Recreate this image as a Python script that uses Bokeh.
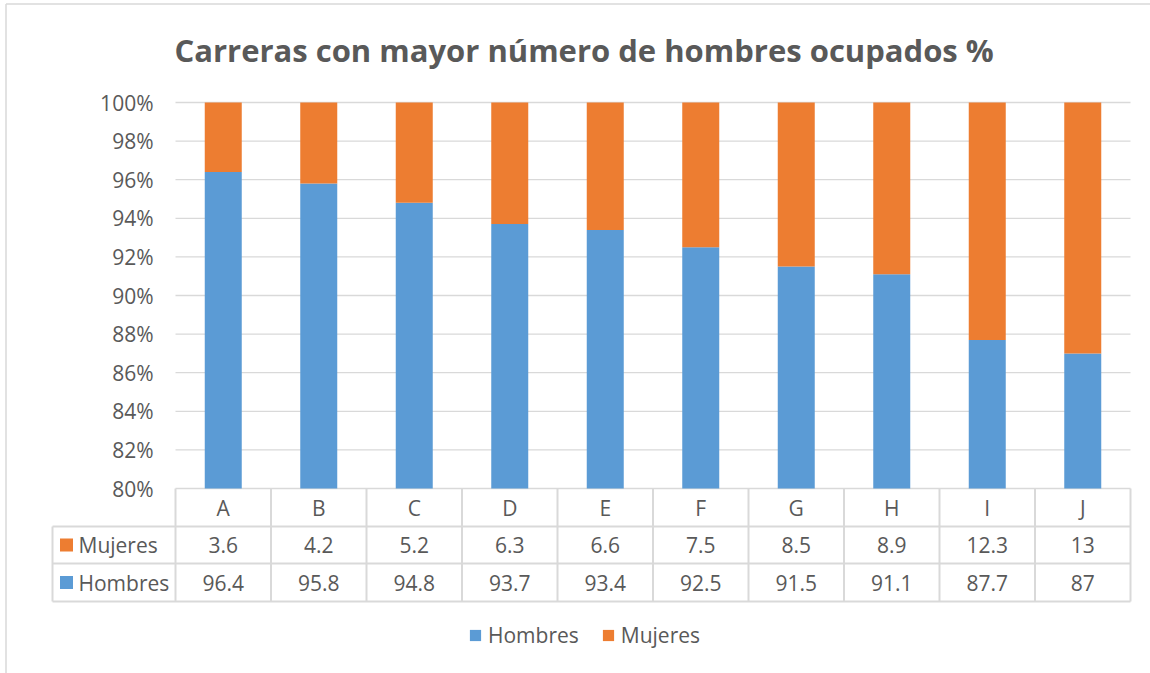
from bokeh.plotting import figure
from bokeh.models import Range1d, Legend, LegendItem
from bokeh.core.properties import value
from bokeh.embed import file_html
from bokeh.resources import INLINE

# ---- data ----
categories = ["A", "B", "C", "D", "E", "F", "G", "H", "I", "J"]
hombres = [96.4, 95.8, 94.8, 93.7, 93.4, 92.5, 91.5, 91.1, 87.7, 87]
mujeres = [3.6, 4.2, 5.2, 6.3, 6.6, 7.5, 8.5, 8.9, 12.3, 13]
series_names = ["Hombres", "Mujeres"]
y_ticks = [80, 82, 84, 86, 88, 90, 92, 94, 96, 98, 100]
y_tick_labels = ["80%", "82%", "84%", "86%", "88%", "90%", "92%", "94%", "96%", "98%", "100%"]
title_text = "Carreras con mayor número de hombres ocupados %"

# ---- style ----
BLUE = "#5B9BD5"
ORANGE = "#ED7D31"
GRID = "#D9D9D9"
TXT = "#595959"
FONT = value("Open Sans")
FS = "21px"

# ---- geometry (page pixels) ----
W, H = 1150, 673
OFF = 0
PX0, PX1 = 175, 1130      # plot area left/right
PY80, PY100 = 488, 102    # y of 80% and 100%
n = len(categories)
ymin, ymax = y_ticks[0], y_ticks[-1]
sx = (PX1 - PX0) / n
sy = (PY80 - PY100) / (ymax - ymin)


def dx(px):
    return (px - PX0) / sx


def dy(py):
    return ymin + (PY80 - py) / sy


p = figure(width=W, height=H,
           x_range=Range1d(dx(OFF), dx(OFF + W)),
           y_range=Range1d(dy(OFF + H), dy(OFF)),
           output_backend="svg", toolbar_location=None, min_border=0,
           x_axis_location=None, y_axis_location=None)
for g in p.grid:
    g.visible = False
p.outline_line_color = None
p.background_fill_color = "white"
p.border_fill_color = "white"

# chart border (left and top edges visible in the window)
p.segment(x0=[dx(5.5), dx(5.5)], x1=[dx(5.5), dx(W + 5)], y0=[dy(3.5), dy(3.5)],
          y1=[dy(H + 5), dy(3.5)], line_color=GRID, line_width=1.5)

# gridlines
p.segment(x0=[0] * len(y_ticks), x1=[n] * len(y_ticks), y0=y_ticks, y1=y_ticks,
          line_color=GRID, line_width=1.3)

# y tick labels
p.text(x=[dx(153)] * len(y_ticks), y=y_ticks, text=y_tick_labels,
       text_font=FONT, text_font_size=FS, text_color=TXT,
       text_align="right", text_baseline="middle")

# bars
xs = [i + 0.5 for i in range(n)]
tops = [h + m for h, m in zip(hombres, mujeres)]
bw = 37 / sx
rh = p.vbar(x=xs, width=bw, bottom=ymin, top=hombres, fill_color=BLUE, line_color=None)
rm = p.vbar(x=xs, width=bw, bottom=hombres, top=tops, fill_color=ORANGE, line_color=None)

# data table
r1, r2, r3 = dy(526), dy(563), dy(601)
xl = dx(52)
p.segment(x0=[xl, xl, xl], x1=[n, n, n], y0=[r1, r2, r3], y1=[r1, r2, r3],
          line_color=GRID, line_width=2)
p.segment(x0=list(range(n + 1)), x1=list(range(n + 1)),
          y0=[ymin] * (n + 1), y1=[r3] * (n + 1), line_color=GRID, line_width=2)
p.segment(x0=[xl], x1=[xl], y0=[r1], y1=[r3], line_color=GRID, line_width=2)

cat_y = dy(507)
muj_y = dy(544.5)
hom_y = dy(582)
p.text(x=xs, y=[cat_y] * n, text=categories, text_font=FONT, text_font_size=FS,
       text_color=TXT, text_align="center", text_baseline="middle")
p.text(x=xs, y=[muj_y] * n, text=[f"{v:g}" for v in mujeres], text_font=FONT,
       text_font_size=FS, text_color=TXT, text_align="center", text_baseline="middle")
p.text(x=xs, y=[hom_y] * n, text=[f"{v:g}" for v in hombres], text_font=FONT,
       text_font_size=FS, text_color=TXT, text_align="center", text_baseline="middle")

p.scatter(x=[dx(66), dx(66)], y=[muj_y, hom_y], marker="square", size=13,
          fill_color=[ORANGE, BLUE], line_color=None)
p.text(x=[dx(78), dx(78)], y=[muj_y, hom_y], text=[series_names[1], series_names[0]],
       text_font=FONT, text_font_size=FS, text_color=TXT,
       text_align="left", text_baseline="middle")

# title
p.text(x=[dx(174)], y=[dy(49)], text=[title_text], text_font=FONT, text_font_style="bold",
       text_font_size="31px", text_color=TXT, text_align="left", text_baseline="alphabetic")

# legend
legend = Legend(items=[LegendItem(label=series_names[0], renderers=[rh]),
                       LegendItem(label=series_names[1], renderers=[rm])],
                orientation="horizontal", location=(468, 24),
                glyph_width=14, glyph_height=14, label_standoff=6, spacing=22,
                padding=0, margin=0, border_line_color=None, background_fill_alpha=0,
                label_text_font="Open Sans", label_text_font_size=FS,
                label_text_color=TXT)
p.add_layout(legend)

open("out.html", "w").write(file_html(p, INLINE))
